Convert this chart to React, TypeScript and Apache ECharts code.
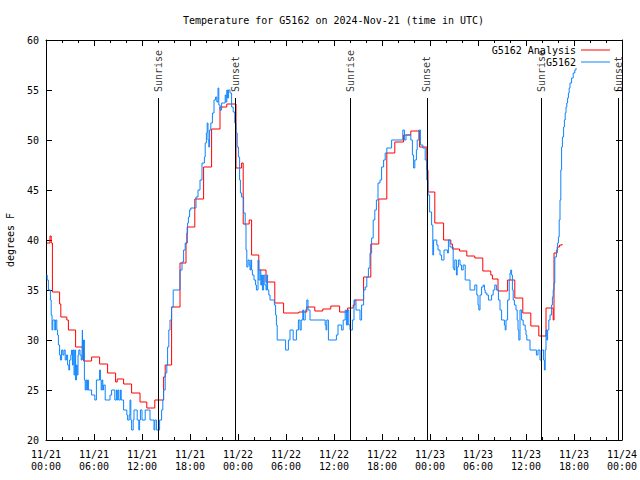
import React, { useEffect, useRef } from "react";
import * as echarts from "echarts";

const FONT = "DejaVu Sans Mono";

// x values are hours since 2024-11-21 00:00 UTC
const xTickLabels = [
  "11/21\n00:00", "11/21\n06:00", "11/21\n12:00", "11/21\n18:00",
  "11/22\n00:00", "11/22\n06:00", "11/22\n12:00", "11/22\n18:00",
  "11/23\n00:00", "11/23\n06:00", "11/23\n12:00", "11/23\n18:00",
  "11/24\n00:00",
];

const sunNames = ["Sunrise", "Sunset", "Sunrise", "Sunset", "Sunrise", "Sunset"];
const sunHours = [14.05, 23.7, 38.0, 47.6, 61.95, 71.5];

const analysisData: [number, number][] = [
  [0.1, 39.7], [0.5, 40.4], [0.65, 39.7], [0.8, 34.8], [1.7, 33.6], [1.85, 32.3],
  [2.6, 32.0], [2.8, 31.0], [3.7, 29.3], [4.7, 27.9], [5.7, 28.3], [6.7, 27.6],
  [7.7, 26.7], [8.7, 25.8], [8.9, 26.1], [9.7, 25.6], [10.7, 24.7], [11.75, 23.8],
  [12.6, 23.2], [13.6, 24.0], [14.7, 26.3], [14.9, 27.5], [15.7, 33.3], [16.75, 37.7],
  [17.5, 39.7], [17.65, 41.3], [18.6, 44.1], [19.7, 47.3], [20.7, 51.1], [21.75, 53.3],
  [22.6, 53.6], [23.75, 47.2], [24.45, 47.7], [24.65, 41.6], [25.4, 42.0], [25.7, 38.5],
  [26.6, 37.0], [27.5, 35.8], [28.6, 33.7], [29.7, 32.7], [31.6, 32.8], [32.6, 33.3],
  [33.6, 32.9], [34.6, 33.1], [35.6, 33.4], [36.7, 32.8], [37.7, 33.2], [38.4, 33.5],
  [38.6, 34.0], [39.7, 36.3], [40.6, 39.6], [41.6, 44.1], [42.6, 48.7], [43.6, 49.8],
  [44.7, 50.5], [45.6, 50.9], [46.7, 49.3], [47.6, 47.0], [47.75, 44.8], [48.6, 41.7],
  [49.7, 40.0], [50.6, 39.6], [50.8, 39.1], [51.7, 38.9], [52.6, 38.4], [53.6, 38.2],
  [54.6, 36.9], [55.6, 36.5], [55.8, 36.1], [56.5, 34.9], [57.7, 36.0], [58.6, 34.2],
  [59.6, 32.7], [60.6, 31.4], [61.6, 30.4], [62.5, 33.2], [63.4, 32.0], [63.5, 38.7],
  [63.9, 39.3], [64.2, 39.5], [64.5, 39.6],
];

const observedData: [number, number][] = [
  [0.05, 36.5], [0.15, 36.0], [0.3, 35.0], [0.55, 34.0], [0.65, 32.5], [0.75, 31.0],
  [0.85, 32.0], [1.1, 31.0], [1.2, 32.0], [1.35, 31.0], [1.45, 30.5], [1.55, 29.5],
  [1.7, 28.5], [1.8, 28.0], [1.95, 29.0], [2.1, 28.5], [2.25, 29.0], [2.4, 28.0],
  [2.55, 28.5], [2.7, 27.5], [2.85, 27.0], [2.95, 28.0], [3.1, 28.5], [3.2, 29.0],
  [3.3, 27.5], [3.4, 29.0], [3.5, 26.5], [3.6, 29.0], [3.7, 26.0], [3.8, 27.5],
  [3.9, 26.5], [4.0, 28.5], [4.1, 29.0], [4.25, 28.5], [4.4, 28.0], [4.5, 28.5],
  [4.55, 31.0], [4.62, 28.0], [4.7, 30.0], [4.8, 26.0], [4.9, 25.0], [5.0, 26.0],
  [5.1, 25.0], [5.2, 26.0], [5.3, 25.0], [5.7, 24.5], [6.1, 24.0], [6.3, 26.0],
  [6.7, 27.0], [6.8, 26.0], [6.9, 25.0], [7.0, 26.0], [7.1, 25.0], [7.2, 25.5],
  [7.4, 24.0], [8.0, 24.5], [8.2, 25.0], [8.6, 24.0], [8.8, 25.0], [8.9, 24.0],
  [9.0, 25.0], [9.1, 24.0], [9.3, 25.0], [9.4, 24.0], [9.7, 23.0], [10.1, 22.5],
  [10.2, 22.0], [10.4, 22.5], [10.5, 24.0], [10.6, 22.0], [10.7, 21.0], [10.9, 22.0],
  [11.0, 23.0], [11.4, 22.0], [11.6, 21.0], [11.7, 22.0], [11.8, 23.0], [12.0, 22.0],
  [12.4, 23.0], [13.0, 22.0], [13.5, 21.0], [13.6, 22.0], [13.8, 21.0], [14.2, 22.0],
  [14.45, 23.0], [14.6, 24.0], [14.7, 25.0], [14.9, 26.7], [15.1, 27.5], [15.2, 29.3],
  [15.35, 31.0], [15.5, 32.0], [15.7, 33.3], [15.9, 35.0], [16.75, 37.0], [17.0, 37.8],
  [17.2, 39.0], [17.4, 39.7], [17.6, 40.7], [17.7, 41.7], [17.8, 42.3], [17.95, 43.0],
  [18.1, 43.2], [18.75, 44.3], [19.0, 45.0], [19.25, 46.0], [19.5, 47.7], [19.8, 48.3],
  [19.9, 49.7], [20.05, 50.7], [20.15, 51.7], [20.25, 50.0], [20.35, 49.3], [20.45, 51.0],
  [20.6, 51.7], [20.8, 52.7], [21.0, 54.0], [21.2, 54.3], [21.35, 53.8], [21.5, 55.2],
  [21.6, 53.5], [21.75, 53.0], [21.95, 53.7], [22.4, 54.5], [22.5, 53.8], [22.6, 55.0],
  [22.7, 54.2], [22.8, 55.0], [23.0, 54.7], [23.2, 53.3], [23.4, 52.8], [23.6, 51.7],
  [23.75, 50.7], [23.9, 49.3], [24.05, 48.3], [24.2, 46.0], [24.3, 44.7], [24.45, 44.3],
  [24.7, 42.7], [24.9, 41.5], [25.0, 39.0], [25.1, 37.3], [25.25, 38.0], [25.4, 37.5],
  [25.5, 37.0], [25.6, 38.0], [25.7, 37.0], [25.8, 36.5], [26.0, 36.0], [26.2, 35.5],
  [26.3, 35.0], [26.5, 38.0], [26.6, 36.0], [26.75, 37.0], [26.85, 35.5], [26.95, 36.5],
  [27.05, 35.0], [27.2, 36.5], [27.35, 35.5], [27.5, 35.0], [27.6, 36.5], [27.7, 35.0],
  [27.85, 34.5], [28.0, 34.0], [28.55, 33.5], [28.7, 32.5], [28.8, 31.5], [28.9, 30.0],
  [29.95, 29.0], [30.3, 30.0], [30.5, 31.0], [30.9, 30.0], [31.3, 31.0], [31.55, 32.0],
  [31.75, 31.0], [31.9, 32.0], [32.1, 33.0], [32.2, 32.0], [32.4, 33.0], [32.6, 34.0],
  [32.75, 33.0], [33.0, 32.0], [34.9, 31.5], [35.0, 31.0], [35.1, 32.0], [35.3, 30.0],
  [36.3, 30.5], [36.5, 31.5], [36.95, 31.0], [37.15, 32.0], [37.4, 33.0], [37.55, 31.5],
  [37.7, 33.0], [37.85, 31.5], [38.0, 31.0], [38.3, 32.0], [38.5, 34.0], [38.75, 33.0],
  [39.25, 32.0], [39.45, 33.5], [39.7, 35.0], [39.9, 35.3], [40.1, 36.3], [40.3, 37.2],
  [40.5, 38.7], [40.7, 40.2], [40.9, 42.0], [41.1, 43.0], [41.3, 44.0], [41.5, 45.7],
  [41.75, 46.0], [41.95, 47.3], [42.2, 48.0], [42.4, 48.7], [42.6, 49.2], [43.2, 50.0],
  [44.6, 51.0], [44.8, 50.0], [45.0, 50.5], [45.6, 50.0], [45.8, 48.5], [45.95, 47.2],
  [46.1, 48.0], [46.3, 49.0], [46.4, 50.0], [46.6, 51.0], [46.8, 49.5], [47.1, 49.2],
  [47.4, 48.0], [47.6, 46.0], [47.75, 44.5], [47.95, 42.8], [48.2, 41.5], [48.35, 38.5],
  [48.45, 40.0], [48.85, 39.5], [49.0, 39.0], [49.25, 38.5], [49.45, 38.0], [49.75, 39.0],
  [50.2, 38.7], [50.3, 40.0], [50.5, 39.3], [50.9, 37.2], [51.0, 37.0], [51.1, 38.0],
  [51.3, 36.5], [51.4, 37.3], [51.55, 38.0], [51.75, 37.5], [51.95, 37.0], [52.15, 37.5],
  [52.4, 36.0], [53.0, 35.0], [53.6, 35.5], [53.85, 34.5], [54.0, 33.5], [54.1, 33.0],
  [54.25, 34.5], [54.45, 35.3], [54.65, 35.5], [54.8, 35.0], [54.9, 34.7], [55.1, 34.5],
  [55.3, 34.0], [55.7, 34.5], [55.9, 35.0], [56.1, 35.5], [56.3, 35.0], [56.55, 34.0],
  [56.75, 33.0], [56.95, 32.0], [57.3, 31.5], [57.4, 31.0], [57.5, 32.0], [57.7, 34.0],
  [57.9, 36.0], [58.0, 36.7], [58.1, 37.0], [58.2, 36.5], [58.3, 35.0], [58.4, 34.0],
  [58.55, 33.5], [58.75, 33.0], [58.9, 32.0], [59.0, 31.0], [59.1, 30.0], [59.25, 33.0],
  [59.45, 32.0], [59.65, 31.5], [59.9, 31.0], [60.0, 30.5], [60.1, 30.0], [60.5, 29.0],
  [61.3, 28.5], [61.5, 29.0], [61.75, 28.0], [61.95, 29.0], [62.2, 28.0], [62.3, 27.0],
  [62.4, 29.0], [62.5, 31.0], [62.6, 30.0], [62.7, 31.0], [62.85, 32.0], [63.0, 32.5],
  [63.2, 33.5], [63.3, 34.3], [63.4, 35.0], [63.5, 35.7], [63.6, 38.3], [63.8, 39.0],
  [63.95, 39.7], [64.05, 40.3], [64.15, 42.0], [64.25, 44.0], [64.35, 47.0], [64.45, 49.3],
  [64.55, 50.3], [64.7, 51.3], [64.8, 52.0], [64.9, 52.7], [65.0, 53.3], [65.1, 53.7],
  [65.2, 54.2], [65.3, 54.7], [65.4, 55.2], [65.5, 55.7], [65.7, 56.2], [65.9, 56.7],
  [66.1, 57.0], [66.25, 57.2],
];

const X_MIN = 0;
const X_MAX = 72;
const X_STEP = 6;
const Y_MIN = 20;
const Y_MAX = 60;
const Y_STEP = 5;
const SUN_LINE_TOP = 54.2;
const SUN_LABEL_Y = 54.8;

export default function App() {
  const ref = useRef<HTMLDivElement>(null);

  useEffect(() => {
    if (!ref.current) return;
    const chart = echarts.init(ref.current, undefined, { renderer: "svg" });

    const baseX = {
      type: "value" as const,
      min: X_MIN,
      max: X_MAX,
      interval: X_STEP,
      axisLine: { show: true, onZero: false, lineStyle: { color: "#000", width: 1 } },
      axisTick: { show: true, inside: true, length: 6, lineStyle: { color: "#000" } },
      minorTick: { show: true, splitNumber: 3, length: 3, lineStyle: { color: "#000" } },
      splitLine: { show: false },
    };
    const baseY = {
      type: "value" as const,
      min: Y_MIN,
      max: Y_MAX,
      interval: Y_STEP,
      axisLine: { show: true, onZero: false, lineStyle: { color: "#000", width: 1 } },
      axisTick: { show: true, inside: true, length: 6, lineStyle: { color: "#000" } },
      splitLine: { show: false },
    };

    const legendCommon = {
      orient: "vertical" as const,
      right: 30,
      align: "right" as const,
      icon: "rect",
      itemWidth: 29,
      itemHeight: 1,
      padding: 0,
      selectedMode: false,
      textStyle: { fontFamily: FONT, fontSize: 10, color: "#000" },
    };

    chart.setOption({
      animation: false,
      backgroundColor: "#fff",
      textStyle: { fontFamily: FONT },
      title: {
        text: "Temperature for G5162 on 2024-Nov-21 (time in UTC)",
        left: 183,
        top: 15,
        padding: 0,
        textStyle: { fontFamily: FONT, fontSize: 10, fontWeight: "normal", color: "#000" },
      },
      legend: [
        { ...legendCommon, top: 45, data: ["G5162 Analysis"] },
        { ...legendCommon, top: 57, data: ["G5162"] },
      ],
      grid: {
        left: 46,
        right: 18,
        top: 40,
        bottom: 40,
        containLabel: false,
        outerBoundsMode: "none",
      },
      xAxis: [
        {
          ...baseX,
          position: "bottom",
          axisLabel: {
            show: true,
            showMinLabel: true,
            showMaxLabel: true,
            hideOverlap: false,
            margin: 8,
            fontFamily: FONT,
            fontSize: 10,
            lineHeight: 12,
            color: "#000",
            formatter: (v: number) => xTickLabels[Math.round((v - X_MIN) / X_STEP)] ?? "",
          },
        },
        { ...baseX, position: "top", axisLabel: { show: false } },
      ],
      yAxis: [
        {
          ...baseY,
          position: "left",
          name: "degrees F",
          nameLocation: "middle",
          nameGap: 31,
          nameRotate: 90,
          nameTextStyle: { fontFamily: FONT, fontSize: 10, color: "#000" },
          axisLabel: { show: true, margin: 7, fontFamily: FONT, fontSize: 10, color: "#000" },
        },
        { ...baseY, position: "right", axisLabel: { show: false } },
      ],
      series: [
        {
          name: "G5162 Analysis",
          type: "line",
          step: "end",
          data: analysisData,
          showSymbol: false,
          symbol: "none",
          color: "#ff0000",
          lineStyle: { color: "#ff0000", width: 1 },
          z: 2,
        },
        {
          name: "G5162",
          type: "line",
          step: "end",
          data: observedData,
          showSymbol: false,
          symbol: "none",
          color: "#0c84ff",
          lineStyle: { color: "#0c84ff", width: 1 },
          z: 3,
        },
        {
          name: "sun",
          type: "scatter",
          silent: true,
          symbolSize: 0,
          z: 4,
          data: sunHours.map((h, i) => ({ name: sunNames[i], value: [h, SUN_LABEL_Y] })),
          label: {
            show: true,
            position: "inside",
            formatter: "{b}",
            rotate: 90,
            align: "left",
            verticalAlign: "middle",
            fontFamily: FONT,
            fontSize: 10,
            color: "#000",
          },
          markLine: {
            silent: true,
            symbol: ["none", "none"],
            label: { show: false },
            lineStyle: { color: "#000", width: 1, type: "solid" },
            data: sunHours.map((h) => [
              { coord: [h, SUN_LINE_TOP] },
              { coord: [h, Y_MIN] },
            ]),
          },
        },
      ],
    });

    return () => chart.dispose();
  }, []);

  return (
    <div
      ref={ref}
      style={{ position: "fixed", left: 0, top: 0, width: 640, height: 480, background: "#fff" }}
    />
  );
}
